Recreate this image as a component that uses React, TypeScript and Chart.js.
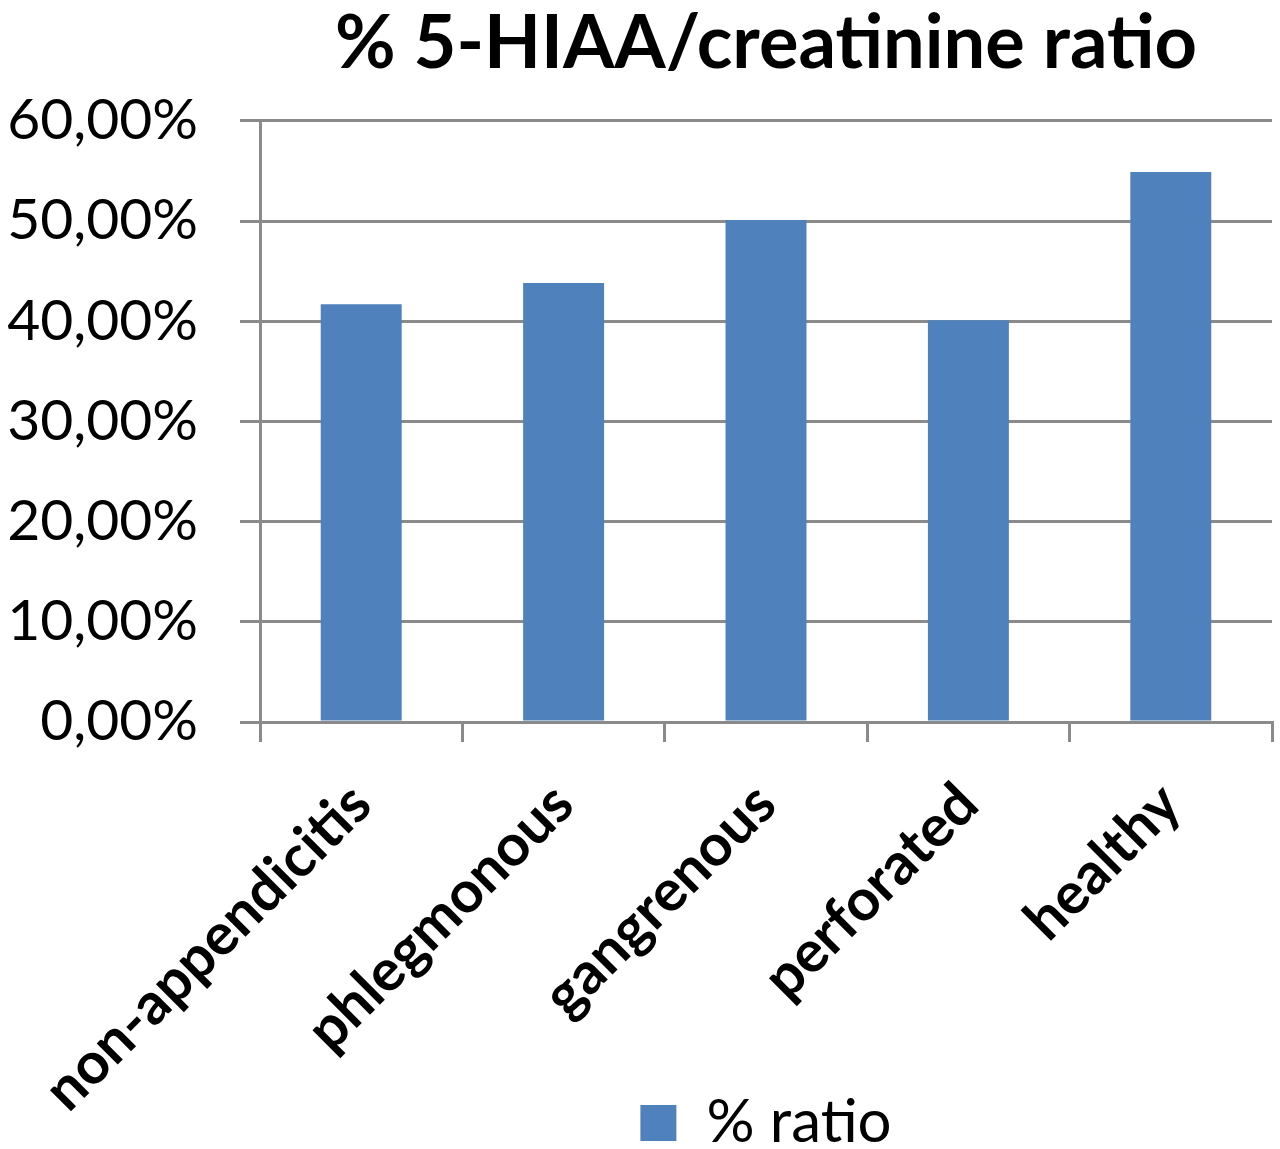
import React, { useEffect, useRef } from "react";
import { Chart, registerables } from "chart.js";

Chart.register(...registerables);

const categories = ["non-appendicitis", "phlegmonous", "gangrenous", "perforated", "healthy"];
const ratioValues = [41.7, 43.8, 50.1, 40.1, 54.9];
const seriesName = "% ratio";
const chartTitle = "% 5-HIAA/creatinine ratio";
const yTicks = [0, 10, 20, 30, 40, 50, 60];

const FONT = "Lato, 'Open Sans', sans-serif";
const GRID = "#8a8a8a";
const BAR = "#4f81bd";

export default function App() {
  const ref = useRef<HTMLCanvasElement | null>(null);

  useEffect(() => {
    if (!ref.current) return;
    const chart = new Chart(ref.current, {
      type: "bar",
      data: {
        labels: categories,
        datasets: [
          {
            label: seriesName,
            data: ratioValues,
            backgroundColor: BAR,
            borderWidth: 0,
            barPercentage: 0.4,
            categoryPercentage: 1,
          },
        ],
      },
      options: {
        responsive: false,
        animation: false,
        devicePixelRatio: 1,
        layout: { padding: { left: 0, right: 8, top: 0, bottom: -14 } },
        plugins: {
          title: {
            display: true,
            text: chartTitle,
            fullSize: false,
            color: "#000",
            font: { family: FONT, size: 74, weight: "bold" },
            padding: { top: 0, bottom: 32 },
          },
          legend: {
            display: true,
            position: "bottom",
            fullSize: false,
            labels: {
              color: "#000",
              font: { family: FONT, size: 60 },
              boxWidth: 36,
              boxHeight: 36,
              padding: 4,
            },
          },
          tooltip: { enabled: false },
        },
        scales: {
          x: {
            grid: {
              display: true,
              drawOnChartArea: false,
              drawTicks: true,
              tickLength: 20,
              color: GRID,
              lineWidth: 3,
              offset: true,
            },
            border: { display: true, color: GRID, width: 3 },
            ticks: {
              color: "#000",
              font: { family: FONT, size: 58, weight: "bold" },
              maxRotation: 45,
              minRotation: 45,
              padding: 28,
              autoSkip: false,
            },
            afterFit: (scale: any) => {
              scale.height = 367;
              scale._computeLabelArea = () => undefined;
            },
          },
          y: {
            min: yTicks[0],
            max: yTicks[yTicks.length - 1],
            afterBuildTicks: (scale: any) => {
              scale.ticks = yTicks.map((v) => ({ value: v }));
            },
            grid: {
              color: GRID,
              lineWidth: 3,
              tickLength: 20,
              drawTicks: true,
            },
            border: { display: true, color: GRID, width: 3 },
            ticks: {
              color: "#000",
              font: { family: FONT, size: 57 },
              padding: 42,
              callback: (v: any) => Number(v).toFixed(2).replace(".", ",") + "%",
            },
            afterFit: (scale: any) => {
              scale.width = 260;
            },
          },
        },
      },
    });
    return () => chart.destroy();
  }, []);

  return (
    <div style={{ position: "absolute", left: 0, top: 0, width: 1280, height: 1149, background: "#fff" }}>
      <canvas ref={ref} width={1280} height={1149} />
    </div>
  );
}
